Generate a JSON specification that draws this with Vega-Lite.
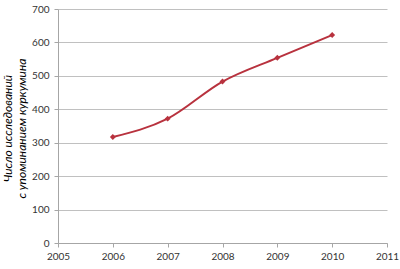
{
  "$schema": "https://vega.github.io/schema/vega-lite/v6.json",
  "width": 329,
  "height": 234,
  "autosize": "none",
  "padding": {"left": 58, "top": 9, "right": 13, "bottom": 26},
  "background": "white",
  "config": {
    "view": {"stroke": null},
    "font": "Lato",
    "axis": {"labelFont": "Lato", "labelColor": "#333333", "labelFontSize": 10, "domainColor": "#a6a6a6", "tickColor": "#a6a6a6", "gridColor": "#c0c0c0", "tickSize": 4, "labelOverlap": false}
  },
  "data": {
    "values": [
      {"year": 2006, "count": 317},
      {"year": 2007, "count": 372},
      {"year": 2008, "count": 483},
      {"year": 2009, "count": 554},
      {"year": 2010, "count": 622}
    ]
  },
  "encoding": {
    "x": {"field": "year", "type": "quantitative", "scale": {"domain": [2005, 2011], "nice": false, "zero": false},
      "axis": {"tickCount": 6, "format": "d", "grid": false, "title": null, "labelPadding": 4, "labelFlush": false}},
    "y": {"field": "count", "type": "quantitative", "scale": {"domain": [0, 700], "nice": false},
      "axis": {"tickCount": 7, "grid": true, "labelPadding": 5,
        "title": ["Число исследований", "с упоминанием куркумина"], "titleFont": "Lato", "titleFontStyle": "italic", "titleFontWeight": "normal", "titleFontSize": 12, "titleColor": "#000000", "titleX": -44, "titleY": 119, "titleLineHeight": 14}}
  },
  "layer": [
    {
      "mark": {"type": "line", "interpolate": "monotone", "color": "#b8323e", "strokeWidth": 2}
    },
    {
      "mark": {"type": "point", "shape": "diamond", "filled": true, "size": 35, "color": "#b8323e", "opacity": 1}
    }
  ]
}
